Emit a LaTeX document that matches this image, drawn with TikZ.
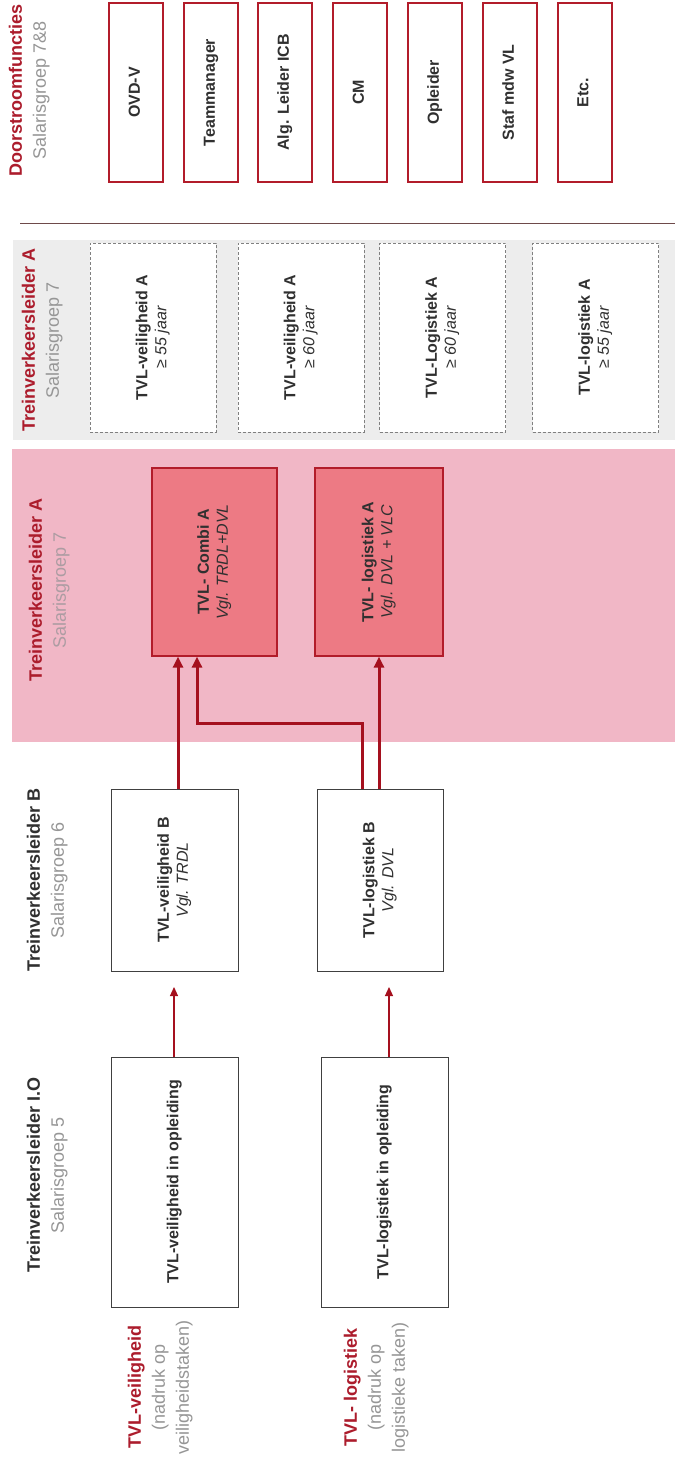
\documentclass[tikz,border=0pt]{standalone}
\usepackage{fontspec}
\setmainfont{Liberation Sans}
\usepackage{graphicx}
\usetikzlibrary{arrows.meta}
\definecolor{hdred}{RGB}{172,28,44}
\definecolor{sgray}{RGB}{150,150,150}
\definecolor{sgraypk}{RGB}{172,156,162}
\definecolor{txt}{RGB}{48,48,48}
\definecolor{boxred}{RGB}{178,28,42}
\definecolor{pinkbg}{RGB}{241,183,198}
\definecolor{salmon}{RGB}{237,122,132}
\definecolor{graybg}{RGB}{237,237,237}
\definecolor{arrred}{RGB}{165,16,30}
\definecolor{rulecol}{RGB}{110,74,74}
\newcommand{\rt}[1]{\rotatebox{90}{\begin{tabular}{@{}c@{}}#1\end{tabular}}}
\begin{document}
\begin{tikzpicture}[x=1pt,y=-1pt,
  hdr/.style={inner sep=0pt, font=\fontsize{18}{24}\selectfont},
  boxtext/.style={inner sep=0pt, font=\fontsize{16}{19}\selectfont, text=txt},
  topbox/.style={boxtext, draw=boxred, line width=2pt, fill=white, minimum width=54pt, minimum height=179pt},
  dashbox/.style={boxtext, draw=black!50, line width=0.8pt, dash pattern=on 3pt off 2pt, fill=white, minimum width=126pt, minimum height=189pt},
  redbox/.style={boxtext, draw=boxred, line width=1.2pt, fill=salmon, minimum height=188pt},
  plainbox/.style={boxtext, draw=black!75, line width=0.9pt, fill=white, minimum width=127pt},
  thick arrow/.style={draw=arrred, line width=3pt, -{Triangle[length=11pt,width=10pt]}},
  thin arrow/.style={draw=arrred, line width=1.2pt, -{Triangle[length=9pt,width=8pt]}}
]
\useasboundingbox (0,0) rectangle (675,1464);
\fill[white] (0,0) rectangle (675,1464);

% backgrounds
\fill[graybg] (13,240) rectangle (675,440);
\fill[pinkbg] (12,449) rectangle (675,742);
\draw[rulecol, line width=1pt] (20,223) -- (675,223);

% headers
\node[hdr] (hD) at (29,90) {\rt{\textcolor{hdred}{\bfseries Doorstroomfuncties}\\ \textcolor{sgray}{Salarisgroep 7\&8}}};
\node[hdr] (hA1) at (42,340) {\rt{\textcolor{hdred}{\bfseries Treinverkeersleider A}\\ \textcolor{sgray}{Salarisgroep 7}}};
\node[hdr] (hA2) at (49,590) {\rt{\textcolor{hdred}{\bfseries Treinverkeersleider A}\\ \textcolor{sgraypk}{Salarisgroep 7}}};
\node[hdr] (hB) at (47,880) {\rt{\textcolor{txt}{\bfseries Treinverkeersleider B}\\ \textcolor{sgray}{Salarisgroep 6}}};
\node[hdr] (hIO) at (47,1175) {\rt{\textcolor{txt}{\bfseries Treinverkeersleider I.O}\\ \textcolor{sgray}{Salarisgroep 5}}};

% top row
\node[topbox] (t1) at (136,92.5) {\rt{\bfseries OVD-V}};
\node[topbox] (t2) at (211,92.5) {\rt{\bfseries Teammanager}};
\node[topbox] (t3) at (285,92.5) {\rt{\bfseries Alg. Leider ICB}};
\node[topbox] (t4) at (360,92.5) {\rt{\bfseries CM}};
\node[topbox] (t5) at (435,92.5) {\rt{\bfseries Opleider}};
\node[topbox] (t6) at (510,92.5) {\rt{\bfseries Staf mdw VL}};
\node[topbox] (t7) at (584.5,92.5) {\rt{\bfseries Etc.}};

% dashed row
\node[dashbox] (d1) at (153,337.5) {\rt{\bfseries TVL-veiligheid A\\ \itshape ≥ 55 jaar}};
\node[dashbox] (d2) at (301,337.5) {\rt{\bfseries TVL-veiligheid A\\ \itshape ≥ 60 jaar}};
\node[dashbox] (d3) at (442.5,337.5) {\rt{\bfseries TVL-Logistiek A\\ \itshape ≥ 60 jaar}};
\node[dashbox] (d4) at (595.5,337.5) {\rt{\bfseries TVL-logistiek A\\ \itshape ≥ 55 jaar}};

% pink row
\node[redbox, minimum width=125pt] (combi) at (214.5,562) {\rt{\bfseries TVL- Combi A\\ \itshape Vgl. TRDL+DVL}};
\node[redbox, minimum width=128pt] (logA) at (379,562) {\rt{\bfseries TVL- logistiek A\\ \itshape Vgl. DVL + VLC}};

% B row
\node[plainbox, minimum height=182pt] (vB) at (174.5,880) {\rt{\bfseries TVL-veiligheid B\\ \itshape Vgl. TRDL}};
\node[plainbox, minimum width=126pt, minimum height=182pt] (lB) at (380,880) {\rt{\bfseries TVL-logistiek B\\ \itshape Vgl. DVL}};

% I.O row
\node[plainbox, minimum height=250pt] (vIO) at (174.5,1182) {\rt{\bfseries TVL-veiligheid in opleiding}};
\node[plainbox, minimum height=250pt] (lIO) at (384.5,1182) {\rt{\bfseries TVL-logistiek in opleiding}};

% bottom labels
\node[hdr] (lv) at (160,1387) {\rt{\textcolor{hdred}{\bfseries TVL-veiligheid}\\ \textcolor{sgray}{(nadruk op}\\ \textcolor{sgray}{veiligheidstaken)}}};
\node[hdr] (ll) at (376,1387) {\rt{\textcolor{hdred}{\bfseries TVL- logistiek}\\ \textcolor{sgray}{(nadruk op}\\ \textcolor{sgray}{logistieke taken)}}};

% connectors
\coordinate (bend1) at (362,723);
\coordinate (bend2) at (197,723);
\draw[thick arrow] (178,0 |- vB.north) -- (178,0 |- combi.south);
\draw[thick arrow] (362,0 |- lB.north) -- (bend1) -- (bend2) -- (197,0 |- combi.south);
\draw[thick arrow] (379,0 |- lB.north) -- (379,0 |- logA.south);

\coordinate (tipv) at (174,987);
\coordinate (tipl) at (389,987);
\draw[thin arrow] (174,0 |- vIO.north) -- (tipv);
\draw[thin arrow] (389,0 |- lIO.north) -- (tipl);
\end{tikzpicture}
\end{document}
